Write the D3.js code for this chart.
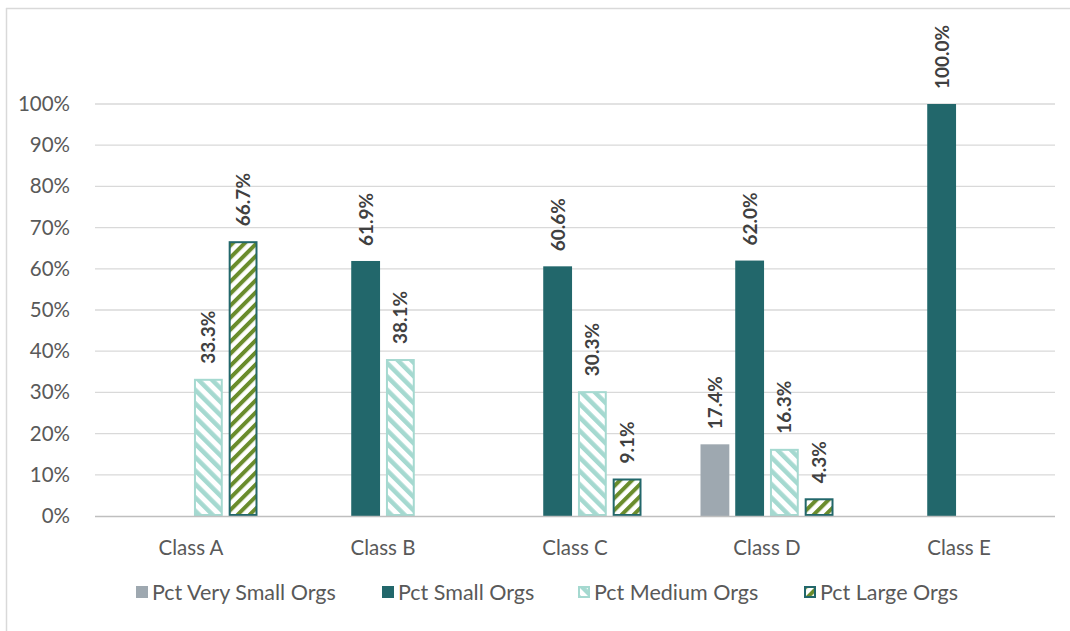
<!DOCTYPE html>
<html><head><meta charset="utf-8">
<script src="https://cdn.jsdelivr.net/npm/d3@7"></script>
<style>body{margin:0;background:#fff}svg{display:block}text{font-family:Lato,"Open Sans",sans-serif}</style>
</head><body>
<svg id="c" width="1070" height="631"></svg>
<script>
const categories = ["Class A","Class B","Class C","Class D","Class E"];
const seriesNames = ["Pct Very Small Orgs","Pct Small Orgs","Pct Medium Orgs","Pct Large Orgs"];
const veryValues = [null, null, null, 17.4, null];
const smallValues = [null, 61.9, 60.6, 62.0, 100.0];
const mediumValues = [33.3, 38.1, 30.3, 16.3, null];
const largeValues = [66.7, null, 9.1, 4.3, null];
const yTicks = [0,10,20,30,40,50,60,70,80,90,100];

const seriesValues = [veryValues, smallValues, mediumValues, largeValues];
const svg = d3.select("#c");
const defs = svg.append("defs");
function stripe(id, color, angle, w, gap){
  const p = defs.append("pattern").attr("id", id).attr("patternUnits","userSpaceOnUse")
    .attr("width", w+gap).attr("height", w+gap).attr("patternTransform","rotate("+angle+")");
  p.append("rect").attr("width", w+gap).attr("height", w+gap).attr("fill","#fff");
  p.append("rect").attr("width", w).attr("height", w+gap).attr("fill", color);
}
stripe("pMed", "#a5d9d0", -45, 4.5, 5);
stripe("pLarge", "#6a8c2c", 45, 4, 4.5);

const fills = ["#9ea8b0","#22676b","url(#pMed)","url(#pLarge)"];
const strokes = [null,null,"#a5d9d0","#22676b"];

// frame
svg.append("line").attr("x1",6.5).attr("x2",6.5).attr("y1",8).attr("y2",631).attr("stroke","#d9d9d9").attr("stroke-width",1.5);
svg.append("line").attr("x1",6).attr("x2",1070).attr("y1",8.5).attr("y2",8.5).attr("stroke","#d9d9d9").attr("stroke-width",1.5);

const x0 = d3.scaleBand().domain(categories).range([95,1055]);
const x1 = d3.scaleBand().domain(d3.range(4)).range([0,133]).paddingInner(0.17);
const y = d3.scaleLinear().domain([0,100]).range([516,104]);

// grid
svg.append("g").selectAll("line").data(yTicks.filter(d=>d>0)).join("line")
  .attr("x1",95).attr("x2",1055).attr("y1",d=>y(d)).attr("y2",d=>y(d))
  .attr("stroke","#d9d9d9").attr("stroke-width",1.3);

const yAxis = svg.append("g").attr("transform","translate(95,0)")
  .call(d3.axisLeft(y).tickValues(yTicks).tickFormat(d=>d+"%").tickSize(0).tickPadding(25));
yAxis.select(".domain").remove();
yAxis.selectAll("text").attr("font-size",20.5).attr("fill","#595959");

// bars
const groups = svg.append("g").selectAll("g").data(categories).join("g")
  .attr("transform",c=>"translate("+(x0(c)+x0.bandwidth()/2-66.5)+",0)");
groups.each(function(c, ci){
  const g = d3.select(this);
  seriesValues.forEach((vals, si)=>{
    const v = vals[ci];
    if(v==null) return;
    const sw = strokes[si] ? 2 : 0;
    g.append("rect")
      .attr("x", x1(si)+sw/2).attr("y", y(v)+sw/2)
      .attr("width", x1.bandwidth()-sw).attr("height", y(0)-y(v)-sw)
      .attr("fill", fills[si])
      .attr("stroke", strokes[si]||"none").attr("stroke-width", sw);
    const cx = x1(si)+x1.bandwidth()/2;
    g.append("text")
      .attr("transform","translate("+(cx+7)+","+(y(v)-15)+") rotate(-90)")
      .attr("font-size",19).attr("font-weight","bold").attr("fill","#404040")
      .text(v.toFixed(1)+"%");
  });
});

// baseline
svg.append("line").attr("x1",95).attr("x2",1055).attr("y1",516.5).attr("y2",516.5).attr("stroke","#bfbfbf").attr("stroke-width",1.3);

const xAxis = svg.append("g").attr("transform","translate(0,516)")
  .call(d3.axisBottom(x0).tickSize(0));
xAxis.select(".domain").remove();
xAxis.selectAll("text").attr("y",39).attr("dy",null).attr("font-size",20.5).attr("fill","#595959");

// legend
const legX = [136, 382, 578, 804];
const leg = svg.append("g").selectAll("g").data(seriesNames).join("g")
  .attr("transform",(d,i)=>"translate("+legX[i]+",586)");
leg.append("rect").attr("x",(d,i)=>strokes[i]?1:0).attr("y",(d,i)=>strokes[i]?1:0)
  .attr("width",(d,i)=>strokes[i]?10:12).attr("height",(d,i)=>strokes[i]?10:12)
  .attr("fill",(d,i)=>fills[i]).attr("stroke",(d,i)=>strokes[i]||"none").attr("stroke-width",(d,i)=>strokes[i]?2:0);
leg.append("text").attr("x",16).attr("y",14).attr("font-size",21.5).attr("fill","#595959").text(d=>d);
</script>
</body></html>
